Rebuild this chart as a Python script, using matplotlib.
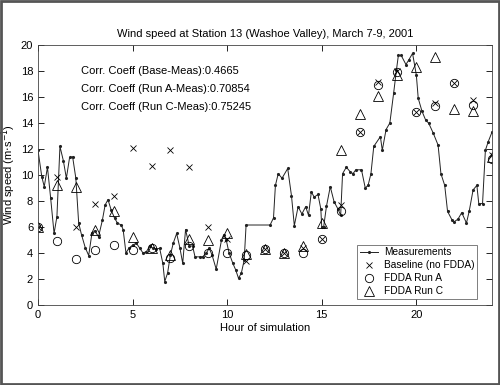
import numpy as np
import matplotlib
matplotlib.use('Agg')
import matplotlib.pyplot as plt
from matplotlib.patches import Rectangle

plt.rcParams['font.family'] = ['Liberation Sans', 'DejaVu Sans']

meas_hour = [0.0, 0.2, 0.33, 0.5, 0.67, 0.85, 1.0, 1.16, 1.34, 1.5, 1.67, 1.83, 2.0, 2.15, 2.3,
             2.5, 2.68, 2.85, 3.0, 3.2, 3.4, 3.55, 3.7, 3.87, 4.05, 4.2, 4.4, 4.5, 4.65, 4.8,
             5.0, 5.2, 5.38, 5.55, 5.73, 5.9, 6.08, 6.25, 6.43, 6.6, 6.7, 6.85, 7.0, 7.15, 7.33,
             7.5, 7.65, 7.8, 8.0, 8.17, 8.3, 8.55, 8.7, 8.9, 9.05, 9.2, 9.42, 9.7, 9.82, 9.95,
             10.1, 10.3, 10.45, 10.6, 10.75, 10.9, 11.0, 12.27, 12.45, 12.55, 12.7, 12.9, 13.2,
             13.4, 13.55, 13.75, 13.95, 14.15, 14.3, 14.45, 14.6, 14.8, 14.95, 15.0, 15.1, 15.25,
             15.45, 15.65, 15.85, 16.0, 16.1, 16.3, 16.5, 16.65, 16.8, 17.1, 17.3, 17.45, 17.6,
             17.75, 18.1, 18.2, 18.4, 18.6, 18.8, 18.95, 19.05, 19.2, 19.45, 19.6, 19.8, 20.0,
             20.1, 20.3, 20.5, 20.65, 20.9, 21.15, 21.3, 21.5, 21.65, 21.9, 22.0, 22.2, 22.4,
             22.65, 22.8, 23.0, 23.2, 23.3, 23.5, 23.65, 23.8, 24.0]
meas_speed = [11.9, 9.87, 9.1, 10.6, 8.2, 5.5, 6.8, 12.2, 11.1, 9.75, 11.35, 11.4, 9.75, 6.3, 5.4,
              4.4, 3.8, 5.5, 5.7, 5.25, 6.5, 7.7, 8.1, 7.3, 6.67, 6.3, 6.15, 5.8, 4.0, 4.36,
              4.6, 4.75, 4.36, 4.0, 4.1, 4.5, 4.36, 4.3, 4.36, 3.2, 1.8, 2.45, 3.85, 4.75, 5.5,
              4.4, 3.2, 5.8, 4.5, 4.55, 3.7, 3.7, 3.7, 4.0, 4.36, 3.85, 2.75, 5.0, 5.4, 5.0,
              4.0, 3.2, 2.7, 2.05, 2.45, 3.45, 6.15, 6.15, 6.7, 9.2, 10.1, 9.75, 10.5,
              8.4, 6.1, 7.56, 7.0, 7.56, 6.9, 8.7, 8.3, 8.5, 7.4, 6.0, 6.0, 7.6,
              9.1, 7.95, 7.4, 6.9, 10.1, 10.6, 10.25, 10.1, 10.4, 10.4, 9.0, 9.2, 10.1,
              12.2, 12.95, 11.9, 13.5, 14.0, 16.3, 18.1, 19.2, 19.2, 18.5, 18.85, 19.36, 17.7,
              15.9, 14.9, 14.2, 14.0, 13.2, 12.3, 10.1, 9.2, 7.2, 6.5, 6.4, 6.6, 7.1,
              6.3, 7.25, 8.85, 9.2, 7.8, 7.8, 11.9, 12.56, 13.3]

# model runs, hourly
model_hour = list(range(25))
baseline = [6.0, 9.87, 6.0, 7.77, 8.38, 12.1, 10.7, 11.9, 10.6, 6.0, 5.07, 3.4, 4.3, 4.0, 4.4,
            5.07, 7.7, 13.3, 17.15, 18.0, 14.87, 15.55, 17.1, 15.8, 11.5]
run_a = [6.0, 4.95, 3.55, 4.23, 4.64, 4.23, 4.4, 3.6, 4.5, 4.0, 4.0, 3.85, 4.3, 4.0, 4.0,
         5.07, 7.2, 13.3, 16.9, 17.95, 14.87, 15.3, 17.1, 15.4, 11.2]
run_c = [6.0, 9.2, 9.1, 5.77, 7.2, 5.2, 4.4, 3.85, 5.1, 5.0, 5.56, 3.9, 4.3, 4.0, 4.5,
         6.3, 11.9, 14.7, 16.1, 17.7, 18.33, 19.05, 15.1, 14.9, 11.4]

corr_text = ['Corr. Coeff (Base-Meas):0.4665',
             'Corr. Coeff (Run A-Meas):0.70854',
             'Corr. Coeff (Run C-Meas):0.75245']

fig = plt.figure(figsize=(5, 3.85), dpi=100)
ax = fig.add_axes([0.076, 0.208, 0.908, 0.675])

ax.plot(meas_hour, meas_speed, '-', color='#222222', lw=0.7, marker='.', ms=2.5, label='Measurements')
ax.plot(model_hour, baseline, 'kx', ms=4, mew=0.6, label='Baseline (no FDDA)')
ax.plot(model_hour, run_a, 'o', mfc='none', mec='k', ms=6, mew=0.6, label='FDDA Run A')
ax.plot(model_hour, run_c, '^', mfc='none', mec='k', ms=6.5, mew=0.6, label='FDDA Run C')

ax.set_xlim(0, 24)
ax.set_ylim(0, 20)
ax.set_xticks([0, 5, 10, 15, 20])
ax.set_yticks(np.arange(0, 21, 2))
ax.tick_params(direction='in', top=True, right=True, labelsize=8, length=4, width=0.6)
for s in ax.spines.values():
    s.set_linewidth(0.6)
    s.set_color('#444444')

ax.set_title('Wind speed at Station 13 (Washoe Valley), March 7-9, 2001', fontsize=8, pad=6)
ax.set_xlabel('Hour of simulation', fontsize=8, labelpad=2)
ax.set_ylabel('Wind speed (m$\\cdot$s$^{-1}$)', fontsize=8, labelpad=2)

for i, t in enumerate(corr_text):
    ax.text(0.095, 0.9 - i * 0.07, t, transform=ax.transAxes, fontsize=8, va='center')

leg = ax.legend(loc='lower right', fontsize=7.3, frameon=True, fancybox=False,
                borderpad=0.25, labelspacing=0.3, handlelength=1.8, handletextpad=0.6,
                borderaxespad=0, bbox_to_anchor=(0.967, 0.023))
leg.get_frame().set_edgecolor('#444444')
leg.get_frame().set_linewidth(0.6)

fig.patches.append(Rectangle((0.002, 0.003), 0.995, 0.994, transform=fig.transFigure,
                             fill=False, edgecolor='#555555', lw=2))

fig.savefig('out.png', dpi=100)
